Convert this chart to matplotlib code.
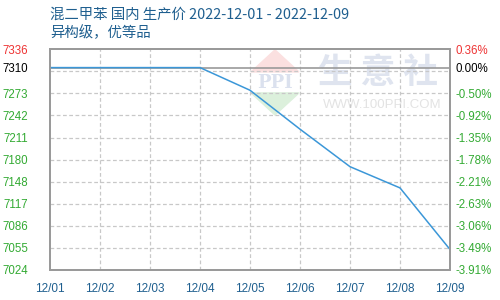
import numpy as np
import matplotlib
matplotlib.use("Agg")
import matplotlib.pyplot as plt
from matplotlib.patches import Polygon

plt.rcParams['font.family'] = ['Noto Sans CJK SC', 'DejaVu Sans']

DATES = ["12/01", "12/02", "12/03", "12/04", "12/05", "12/06", "12/07", "12/08", "12/09"]
PRICES = [7310, 7310, 7310, 7310, 7278, 7223, 7170, 7140, 7053]
BASE = 7310
Y_MIN, Y_MAX = 7024, 7336
TITLE = "混二甲苯 国内 生产价 2022-12-01 - 2022-12-09"
SUBTITLE = "异构级，优等品"

TXT_BLUE = "#1f5f8f"
GREEN = "#33aa33"
RED = "#ee3333"
LINE = "#3b97d8"

fig = plt.figure(figsize=(5, 3), dpi=100)
ax = fig.add_axes([0.1, 0.1, 0.8, 0.736])
x = np.arange(len(DATES))

# grid levels (11 evenly spaced between min and max)
levels = np.linspace(Y_MAX, Y_MIN, 11)
for v in levels[1:-1]:
    ax.axhline(v, color="#c8c8c8", lw=0.9, ls=(0, (3, 2)), zorder=1)
for xi in x[1:-1]:
    ax.axvline(xi, color="#c8c8c8", lw=0.9, ls=(0, (3, 2)), zorder=1)
ax.axhline(BASE, color="#9a9a9a", lw=1.2, zorder=2)

# watermark (logo + site name)
tr = ax.transAxes
ax.add_patch(Polygon([[0.5625, 0.997], [0.6225, 0.897], [0.5025, 0.897]], closed=True,
                     transform=tr, color="#fbe0e0", zorder=0))
ax.add_patch(Polygon([[0.5025, 0.802], [0.6225, 0.802], [0.5625, 0.702]], closed=True,
                     transform=tr, color="#dcf0dc", zorder=0))
ax.text(0.5625, 0.847, "PPI", transform=tr, ha="center", va="center",
        fontsize=13, family="DejaVu Serif", fontweight="bold", color="#dbe1ee", zorder=0)
ax.text(0.82, 0.895, "生 意 社", transform=tr, ha="center", va="center",
        fontsize=25, color="#dfe4ef", fontweight="bold", zorder=0)
ax.text(0.83, 0.748, "WWW.100PPI.COM", transform=tr, ha="center", va="center",
        fontsize=9.5, family="Liberation Sans", color="#e3e3e3", zorder=0)

ax.plot(x, PRICES, color=LINE, lw=1.1, zorder=3)

ax.set_xlim(0, len(DATES) - 1)
ax.set_ylim(Y_MIN, Y_MAX)
ax.set_xticks(x)
ax.set_xticklabels(DATES, fontsize=8.5, family="Liberation Sans", color=TXT_BLUE)
ax.tick_params(axis="x", length=0, pad=9)

yt = [Y_MAX, BASE] + list(levels[2:])
ylab = [f"{int(v)}" for v in yt]
ycol = [RED, "black"] + [GREEN] * (len(yt) - 2)
ax.set_yticks(yt)
ax.set_yticklabels(ylab, fontsize=8.3, family="Liberation Sans")
for t, c in zip(ax.get_yticklabels(), ycol):
    t.set_color(c)
ax.tick_params(axis="y", length=0, pad=15.8)

ax2 = ax.twinx()
ax2.set_ylim(Y_MIN, Y_MAX)
ax2.set_yticks(yt)
ax2.set_yticklabels([f"{(v / BASE - 1) * 100:.2f}%" for v in yt],
                    fontsize=8.3, family="Liberation Sans")
for t, c in zip(ax2.get_yticklabels(), ycol):
    t.set_color(c)
ax2.tick_params(axis="y", length=0, pad=3.6)

for a in (ax, ax2):
    for s in a.spines.values():
        s.set_color("#9a9a9a")
        s.set_linewidth(1.3)

fig.text(0.1, 1 - 15 / 300, TITLE, fontsize=10.4, color=TXT_BLUE, va="center", ha="left")
fig.text(0.1, 1 - 33 / 300, SUBTITLE, fontsize=10.4, color=TXT_BLUE, va="center", ha="left")

fig.savefig("out.png", dpi=100)
